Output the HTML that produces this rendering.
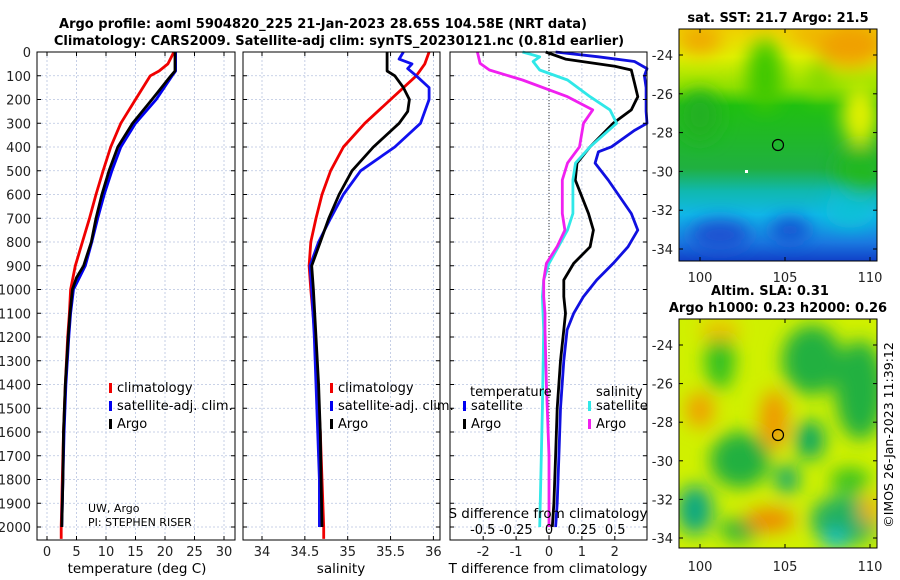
<!DOCTYPE html>
<html><head><meta charset="utf-8"><style>
html,body{margin:0;padding:0;background:#fff;}
svg{display:block;font-family:"DejaVu Sans","Liberation Sans",sans-serif;}
</style></head><body>
<svg id="fig" width="900" height="580" viewBox="0 0 900 580" xmlns="http://www.w3.org/2000/svg">
<defs>
<filter id="blur10" x="-50%" y="-50%" width="200%" height="200%"><feGaussianBlur stdDeviation="9"/></filter>
<clipPath id="c1"><rect x="679" y="29" width="198" height="232"/></clipPath>
<clipPath id="c2"><rect x="679" y="319" width="198" height="229"/></clipPath>
<linearGradient id="sstg" x1="0" y1="0" x2="0" y2="1">
<stop offset="0" stop-color="#f0d000"/><stop offset="0.12" stop-color="#e0f000"/><stop offset="0.25" stop-color="#90e000"/>
<stop offset="0.33" stop-color="#20c010"/><stop offset="0.6" stop-color="#20b040"/><stop offset="0.7" stop-color="#10b8b0"/>
<stop offset="0.8" stop-color="#10b8e8"/><stop offset="0.92" stop-color="#1a78e0"/><stop offset="1" stop-color="#1040c8"/>
</linearGradient>
</defs>
<text x="323" y="28" text-anchor="middle" font-size="13" font-weight="bold">Argo profile: aoml 5904820_225 21-Jan-2023 28.65S 104.58E (NRT data)</text>
<text x="339" y="45" text-anchor="middle" font-size="13" font-weight="bold">Climatology: CARS2009. Satellite-adj clim: synTS_20230121.nc (0.81d earlier)</text>
<g id="panels"></g>
<text x="778" y="22" text-anchor="middle" font-size="13" font-weight="bold">sat. SST: 21.7 Argo: 21.5</text>
<g clip-path="url(#c1)">
<rect x="679" y="29" width="198" height="232" fill="url(#sstg)"/>
<g filter="url(#blur10)">
<ellipse cx="700" cy="40" rx="22" ry="14" fill="#f0a800"/>
<ellipse cx="850" cy="45" rx="35" ry="22" fill="#f0a000"/>
<ellipse cx="810" cy="35" rx="20" ry="10" fill="#f0b000"/>
<ellipse cx="765" cy="75" rx="18" ry="35" fill="#40c800"/>
<ellipse cx="820" cy="80" rx="10" ry="20" fill="#80d800"/>
<ellipse cx="700" cy="115" rx="20" ry="25" fill="#20b020"/>
<ellipse cx="860" cy="115" rx="18" ry="30" fill="#e0f000"/>
<ellipse cx="790" cy="230" rx="20" ry="12" fill="#1850d0"/>
<ellipse cx="720" cy="235" rx="30" ry="15" fill="#1a50d0"/>
<ellipse cx="850" cy="210" rx="25" ry="18" fill="#10c0d8"/>
<ellipse cx="860" cy="170" rx="25" ry="25" fill="#20b820"/>
</g>
<rect x="745" y="170" width="3" height="3" fill="#fff"/>
<circle cx="778" cy="145" r="5.5" fill="none" stroke="#000" stroke-width="1.2"/>
</g>
<rect x="679" y="29" width="198" height="232" fill="none" stroke="#000" stroke-width="1"/>
<text x="770" y="295" text-anchor="middle" font-size="13" font-weight="bold">Altim. SLA: 0.31</text>
<text x="778" y="312" text-anchor="middle" font-size="13" font-weight="bold">Argo h1000: 0.23 h2000: 0.26</text>
<g clip-path="url(#c2)">
<rect x="679" y="319" width="198" height="229" fill="#d0f000"/>
<g filter="url(#blur10)">
<ellipse cx="812" cy="360" rx="30" ry="35" fill="#20b040"/>
<ellipse cx="720" cy="360" rx="15" ry="30" fill="#30c020"/>
<ellipse cx="860" cy="390" rx="25" ry="50" fill="#20b040"/>
<ellipse cx="740" cy="460" rx="30" ry="28" fill="#20b040"/>
<ellipse cx="810" cy="440" rx="15" ry="20" fill="#10a860"/>
<ellipse cx="787" cy="479" rx="12" ry="15" fill="#10a870"/>
<ellipse cx="695" cy="510" rx="18" ry="25" fill="#10a880"/>
<ellipse cx="845" cy="520" rx="35" ry="25" fill="#20b060"/>
<ellipse cx="835" cy="540" rx="12" ry="10" fill="#10c0d0"/>
<ellipse cx="740" cy="530" rx="20" ry="12" fill="#20b040"/>
<ellipse cx="850" cy="480" rx="20" ry="12" fill="#30c020"/>
<ellipse cx="700" cy="410" rx="14" ry="18" fill="#f0a000"/>
<ellipse cx="774" cy="420" rx="14" ry="30" fill="#f09800"/>
<ellipse cx="770" cy="520" rx="25" ry="12" fill="#f08800"/>
<ellipse cx="720" cy="330" rx="20" ry="10" fill="#f0c000"/>
<ellipse cx="870" cy="510" rx="10" ry="15" fill="#f0b000"/>
</g>
<circle cx="778" cy="435" r="5.5" fill="none" stroke="#000" stroke-width="1.2"/>
</g>
<rect x="679" y="319" width="198" height="229" fill="none" stroke="#000" stroke-width="1"/>
<text transform="translate(893,435) rotate(-90)" text-anchor="middle" font-size="12.5">©IMOS 26-Jan-2023 11:39:12</text>
<g id="maps-axes"></g>
</svg>
<script>
const depthTicks=[0,100,200,300,400,500,600,700,800,900,1000,1100,1200,1300,1400,1500,1600,1700,1800,1900,2000];
const tempTicks=[0,5,10,15,20,25,30];
const salTicks=[34,34.5,35,35.5,36];
const salTickLabels=["34","34.5","35","35.5","36"];
const tdiffTicks=[-2,-1,0,1,2];
const sdiffTicks=[-0.5,-0.25,0,0.25,0.5];
const sdiffTickLabels=["-0.5","-0.25","0","0.25","0.5"];
const tClimDepth=[0,50,80,100,200,300,400,500,600,700,800,900,1000,1100,1200,1400,1600,1800,2000,2050];
const tClim=[21.5,20.5,19,17.5,15,12.5,10.8,9.5,8.3,7.2,6,4.8,4,3.8,3.5,3.1,2.8,2.6,2.4,2.4];
const tArgoDepth=[0,80,100,200,300,400,500,600,700,800,900,950,1000,1100,1200,1400,1600,1800,2000];
const tArgo=[21.7,21.7,21,17.8,14.5,12,10.5,9.3,8.3,7.5,6.2,5,4.3,3.9,3.6,3.1,2.8,2.7,2.5];
const tSatDepth=[0,80,100,200,300,400,500,600,700,800,900,1000,1100,1200,1400,1600,1800,2000];
const tSat=[21.8,21.8,21.2,18.5,15,12.5,11,9.7,8.6,7.6,6.5,4.5,4,3.7,3.2,2.9,2.7,2.5];
const sClimDepth=[0,50,100,200,300,400,500,600,700,800,900,1000,1200,1400,1600,1800,2000,2050];
const sClim=[35.95,35.9,35.8,35.5,35.2,34.95,34.8,34.7,34.63,34.57,34.55,34.57,34.62,34.65,34.68,34.7,34.72,34.72];
const sArgoDepth=[0,80,100,150,200,250,300,400,500,600,700,800,900,1000,1200,1400,1600,1800,2000];
const sArgo=[35.46,35.46,35.55,35.65,35.72,35.7,35.6,35.3,35.05,34.9,34.78,34.68,34.58,34.6,34.63,34.66,34.68,34.69,34.7];
const sSatDepth=[0,30,50,70,100,150,200,250,300,400,500,600,700,800,900,1000,1200,1400,1600,1800,2000];
const sSat=[35.65,35.6,35.75,35.7,35.8,35.95,35.95,35.9,35.85,35.55,35.15,34.95,34.8,34.66,34.56,34.58,34.61,34.63,34.65,34.67,34.67];
const dtArgoDepth=[0,30,60,76,130,188,244,300,399,468,539,680,750,820,890,960,1030,1100,1170,1300,1500,1700,1900,2000];
const dtArgo=[-0.1,0.5,2.0,2.5,2.6,2.7,2.5,1.95,1.25,0.85,0.8,1.2,1.35,1.25,0.75,0.45,0.45,0.5,0.45,0.35,0.25,0.2,0.15,0.1];
const dtSatDepth=[0,20,40,70,100,150,250,300,330,399,420,468,539,680,750,820,890,960,1030,1100,1170,1300,1500,1700,1900,2000];
const dtSat=[0.2,1.5,2.6,2.98,2.9,2.95,2.95,2.98,2.6,1.9,1.5,1.4,1.8,2.5,2.7,2.4,1.95,1.45,1.05,0.75,0.55,0.45,0.35,0.3,0.25,0.2];
const dsArgoDepth=[0,48,76,118,188,244,300,399,468,539,680,750,820,890,960,1030,1100,1170,1400,1700,2000];
const dsArgo=[-0.54,-0.52,-0.45,-0.2,0.14,0.33,0.26,0.23,0.14,0.1,0.1,0.12,0.06,-0.02,-0.04,-0.04,-0.03,-0.03,-0.02,0,0];
const dsSatDepth=[0,20,40,76,118,188,244,300,399,468,539,680,750,820,890,960,1030,1170,1500,2000];
const dsSat=[-0.2,-0.07,-0.12,-0.07,0.14,0.31,0.46,0.51,0.31,0.2,0.18,0.18,0.14,0.07,0,-0.04,-0.05,-0.04,-0.05,-0.07];
const mapLatTicks=[-24,-26,-28,-30,-32,-34];
const mapLonTicks=[100,105,110];

const NS="http://www.w3.org/2000/svg";
const root=document.getElementById('panels');
function mk(tag,attrs,parent,text){const e=document.createElementNS(NS,tag);for(const k in attrs)e.setAttribute(k,attrs[k]);if(text!==undefined)e.textContent=text;(parent||root).appendChild(e);return e;}
const Y0=52,YPX=0.2375,BOT=540;
const yD=d=>Y0+d*YPX;
const xT=v=>47+v*5.9;
const xS=v=>262+(v-34)*85.7;
const xDT=v=>549+v*32.9;
const xDS=v=>549+v*132.5;
const panels=[{l:37,r:235,name:'temperature-panel'},{l:243,r:440,name:'salinity-panel'},{l:450,r:647,name:'difference-panel'}];

function grid(p,xs){
  for(const d of depthTicks){const l=mk('line',{x1:p.l,x2:p.r,y1:yD(d),y2:yD(d),stroke:'#b8c4e0','stroke-width':0.8,'stroke-dasharray':'2,2'});
  }
  for(const x of xs){const l=mk('line',{x1:x,x2:x,y1:Y0,y2:BOT,stroke:'#b8c4e0','stroke-width':0.8,'stroke-dasharray':'2,2'});
  }
}
function line(xs,ds,fx,color,name,w){
  const pts=xs.map((v,i)=>fx(v).toFixed(1)+','+yD(ds[i]).toFixed(1)).join(' ');
  const e=mk('polyline',{points:pts,fill:'none',stroke:color,'stroke-width':w||2.8,'stroke-linejoin':'round'});
  
}
function frame(p){const e=mk('rect',{x:p.l,y:Y0,width:p.r-p.l,height:BOT-Y0,fill:'none',stroke:'#000','stroke-width':1});
  
  for(const d of depthTicks){mk('line',{x1:p.l,x2:p.l+4,y1:yD(d),y2:yD(d),stroke:'#000'});mk('line',{x1:p.r,x2:p.r-4,y1:yD(d),y2:yD(d),stroke:'#000'});}
}
function xticks(p,vals,fx,labels,y){
  vals.forEach((v,i)=>{const x=fx(v);mk('line',{x1:x,x2:x,y1:BOT,y2:BOT-4,stroke:'#000'});mk('line',{x1:x,x2:x,y1:Y0,y2:Y0+4,stroke:'#000'});
  const t=mk('text',{x:x,y:y,'text-anchor':'middle','font-size':13,fill:'#222'},null,labels?labels[i]:String(v));
  });
}
function legend(x,y,color,label){
  mk('rect',{x:x,y:y-8,width:3,height:10,fill:color});
  const t=mk('text',{x:x+8,y:y+1,'font-size':13},null,label);
  
}

grid(panels[0],tempTicks.map(xT));
grid(panels[1],salTicks.map(xS));
grid(panels[2],tdiffTicks.map(xDT));
const zl=mk('line',{x1:549,x2:549,y1:Y0,y2:BOT,stroke:'#333','stroke-width':1,'stroke-dasharray':'1,2'});


line(tClim,tClimDepth,xT,'#f00000','temp-climatology-line');
line(tSat,tSatDepth,xT,'#0000f0','temp-satellite-line');
line(tArgo,tArgoDepth,xT,'#000','temp-argo-line');
line(sClim,sClimDepth,xS,'#f00000','sal-climatology-line');
line(sSat,sSatDepth,xS,'#1010f0','sal-satellite-line');
line(sArgo,sArgoDepth,xS,'#000','sal-argo-line');
line(dtSat,dtSatDepth,xDT,'#1010e0','tdiff-satellite-line');
line(dtArgo,dtArgoDepth,xDT,'#000','tdiff-argo-line');
line(dsSat,dsSatDepth,xDS,'#30e8e8','sdiff-satellite-line');
line(dsArgo,dsArgoDepth,xDS,'#f020f0','sdiff-argo-line');

panels.forEach(frame);
for(const d of depthTicks){const t=mk('text',{x:31,y:yD(d)+5,'text-anchor':'end','font-size':13,fill:'#222'},null,String(d));
  }
xticks(panels[0],tempTicks,xT,null,556);
xticks(panels[1],salTicks,xS,salTickLabels,556);
xticks(panels[2],tdiffTicks,xDT,null,556);
sdiffTicks.forEach((v,i)=>{const t=mk('text',{x:xDS(v),y:534,'text-anchor':'middle','font-size':13},null,sdiffTickLabels[i]);
  });
[['temperature (deg C)',137,'x-axis-title-temperature'],['salinity',341,'x-axis-title-salinity'],['T difference from climatology',548,'x-axis-title-tdiff']].forEach(a=>{
  const t=mk('text',{x:a[1],y:573,'text-anchor':'middle','font-size':13.5},null,a[0]);});
const sdt=mk('text',{x:548,y:518,'text-anchor':'middle','font-size':13.5},null,'S difference from climatology');

const c1=mk('text',{x:88,y:512,'font-size':11},null,'UW, Argo');
const c2=mk('text',{x:88,y:526,'font-size':11},null,'PI: STEPHEN RISER');

legend(109,391,'#f00000','climatology');legend(109,409,'#0000f0','satellite-adj. clim.');legend(109,427,'#000','Argo');
legend(330,391,'#f00000','climatology');legend(330,409,'#0000f0','satellite-adj. clim.');legend(330,427,'#000','Argo');
const lt=mk('text',{x:470,y:396,'font-size':13},null,'temperature');
const ls=mk('text',{x:596,y:396,'font-size':13},null,'salinity');
legend(463,409,'#0000f0','satellite');legend(463,427,'#000','Argo');
legend(588,409,'#30e8e8','satellite');legend(588,427,'#f020f0','Argo');

const ma=document.getElementById('maps-axes');
const latY1=v=>55+(-24-v)*19.4;
const latY2=v=>345+(-24-v)*19.3;
const lonX=v=>700+(v-100)*17;
[[latY1,29,261,282],[latY2,319,548,571]].forEach(m=>{
  for(const v of mapLatTicks){const y=m[0](v);
    mk('line',{x1:679,x2:683,y1:y,y2:y,stroke:'#000'},ma);mk('line',{x1:877,x2:873,y1:y,y2:y,stroke:'#000'},ma);
    const t=mk('text',{x:673,y:y+5,'text-anchor':'end','font-size':13,fill:'#222'},ma,String(v));
    }
  for(const v of mapLonTicks){const x=lonX(v);
    mk('line',{x1:x,x2:x,y1:m[2],y2:m[2]-4,stroke:'#000'},ma);mk('line',{x1:x,x2:x,y1:m[1],y2:m[1]+4,stroke:'#000'},ma);
    const t=mk('text',{x:x,y:m[3],'text-anchor':'middle','font-size':13,fill:'#222'},ma,String(v));
    }
});
</script>
</body></html>
